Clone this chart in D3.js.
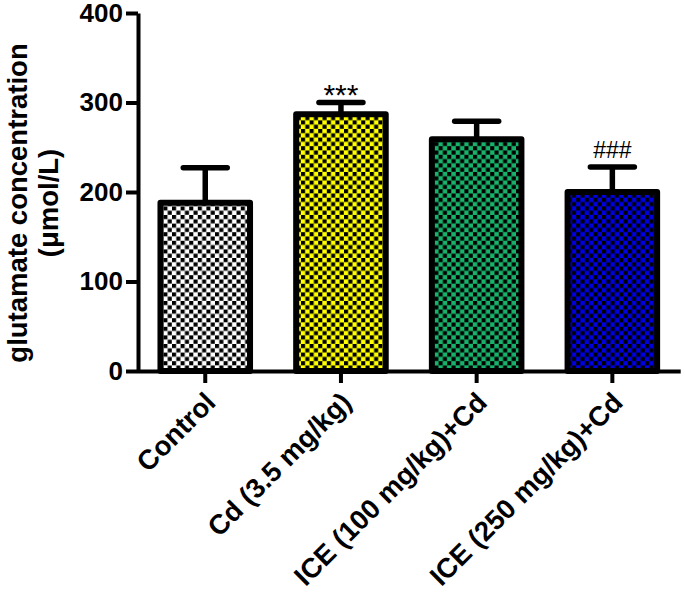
<!DOCTYPE html>
<html>
<head>
<meta charset="utf-8">
<script src="https://cdn.jsdelivr.net/npm/d3@7/dist/d3.min.js"></script>
<style>
  html, body { margin: 0; padding: 0; background: #fff; }
  text { font-family: "Liberation Sans", Arial, sans-serif; fill: #000; }
</style>
</head>
<body>
<div id="container"></div>
<script>
const categories = ["Control", "Cd (3.5 mg/kg)", "ICE (100 mg/kg)+Cd", "ICE (250 mg/kg)+Cd"];
const means = [188, 287, 259, 200];
const errors = [227, 300, 279, 228];
const marks = ["", "***", "", "###"];
const colors = ["#ffffff", "#ffff00", "#19b26b", "#0000e0"];
const yTicks = [0, 100, 200, 300, 400];

const width = 685;
const height = 593;

const svg = d3.select("#container").append("svg")
    .attr("width", width)
    .attr("height", height)
    .style("display", "block");

const xScale = d3.scaleBand()
    .domain(categories)
    .range([137.4, 680.2])
    .paddingInner(0.34)
    .paddingOuter(0.17);

const yScale = d3.scaleLinear()
    .domain([0, 400])
    .range([371, 13]);

// checker fills, one per bar
const defs = svg.append("defs");
const cell = 4.3;
const dot = 4.1;
colors.forEach(function(c, i) {
  const p = defs.append("pattern")
      .attr("id", "check" + i)
      .attr("patternUnits", "userSpaceOnUse")
      .attr("width", cell * 2)
      .attr("height", cell * 2);
  p.append("rect").attr("width", cell * 2).attr("height", cell * 2).attr("fill", c);
  p.append("rect").attr("width", dot).attr("height", dot).attr("fill", "#000");
  p.append("rect").attr("x", cell).attr("y", cell).attr("width", dot).attr("height", dot).attr("fill", "#000");
});

const bars = svg.selectAll("g.bar")
    .data(categories)
    .enter().append("g")
    .attr("class", "bar");

// error bars sit behind the bars
bars.append("line")
    .attr("x1", d => xScale(d) + xScale.bandwidth() / 2)
    .attr("x2", d => xScale(d) + xScale.bandwidth() / 2)
    .attr("y1", (d, i) => yScale(means[i]))
    .attr("y2", (d, i) => yScale(errors[i]))
    .attr("stroke", "#000")
    .attr("stroke-width", 5.5);

bars.append("line")
    .attr("x1", d => xScale(d) + xScale.bandwidth() / 2 - 22)
    .attr("x2", d => xScale(d) + xScale.bandwidth() / 2 + 22)
    .attr("y1", (d, i) => yScale(errors[i]))
    .attr("y2", (d, i) => yScale(errors[i]))
    .attr("stroke", "#000")
    .attr("stroke-width", 5.5)
    .attr("stroke-linecap", "round");

bars.append("rect")
    .attr("x", d => xScale(d))
    .attr("y", (d, i) => yScale(means[i]))
    .attr("width", xScale.bandwidth())
    .attr("height", (d, i) => yScale(0) - yScale(means[i]))
    .attr("fill", (d, i) => "url(#check" + i + ")")
    .attr("stroke", "#000")
    .attr("stroke-width", 6)
    .attr("stroke-linejoin", "round");

bars.append("text")
    .attr("x", d => xScale(d) + xScale.bandwidth() / 2)
    .attr("y", (d, i) => yScale(errors[i]) - (marks[i] === "###" ? 9 : -2))
    .attr("text-anchor", "middle")
    .attr("font-size", (d, i) => marks[i] === "###" ? 23 : 30)
    .text((d, i) => marks[i]);

// axes
const xAxis = svg.append("g")
    .attr("transform", "translate(0," + yScale(0) + ")")
    .call(d3.axisBottom(xScale).tickSize(12).tickSizeOuter(0));
xAxis.selectAll("path, line").attr("stroke", "#000").attr("stroke-width", 4);
xAxis.selectAll("text")
    .attr("font-size", 27.5)
    .attr("font-weight", "bold")
    .attr("text-anchor", "end")
    .attr("x", 0)
    .attr("y", 0)
    .attr("dy", 0)
    .attr("transform", "translate(12,33) rotate(-45)");

const yAxis = svg.append("g")
    .attr("transform", "translate(138,0)")
    .call(d3.axisLeft(yScale).tickValues(yTicks).tickSize(12).tickSizeOuter(0).tickPadding(3));
yAxis.selectAll("path, line").attr("stroke", "#000").attr("stroke-width", 4);
yAxis.selectAll("text")
    .attr("font-size", 26)
    .attr("font-weight", "bold");

const yTitle = svg.append("text")
    .attr("transform", "translate(27,203) rotate(-90)")
    .attr("text-anchor", "middle")
    .attr("font-size", 27.5)
    .attr("font-weight", "bold");
yTitle.append("tspan").attr("x", 0).attr("dy", 0).text("glutamate concentration");
yTitle.append("tspan").attr("x", 0).attr("dy", 31).text("(\u03bcmol/L)");
</script>
</body>
</html>
